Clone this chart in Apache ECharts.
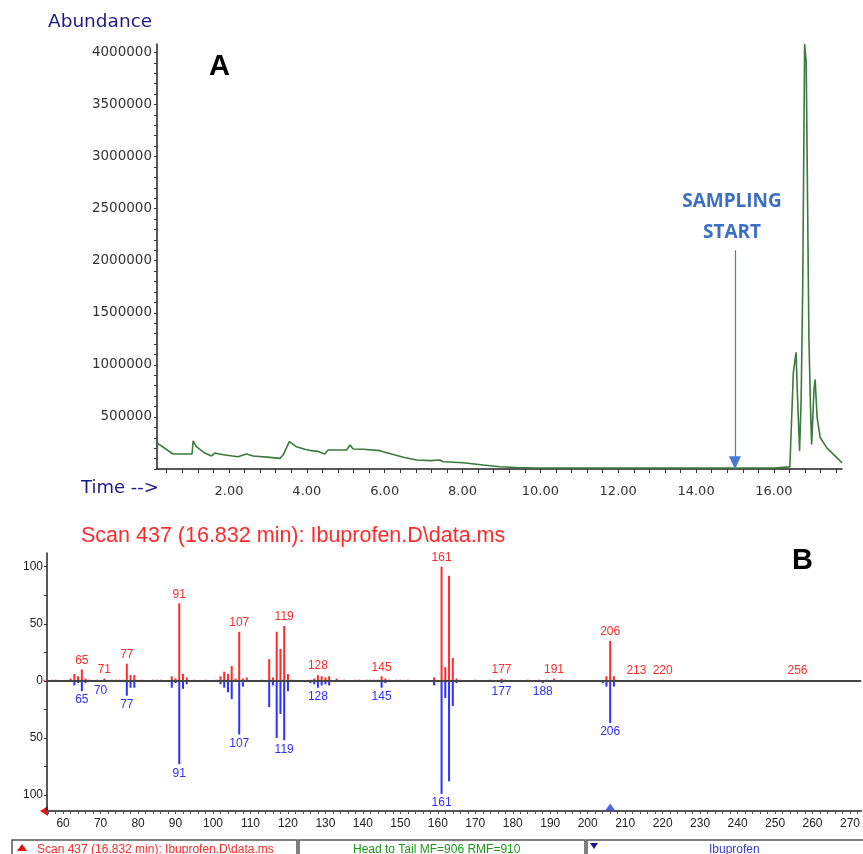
<!DOCTYPE html>
<html>
<head>
<meta charset="utf-8">
<script src="https://cdn.jsdelivr.net/npm/echarts@6/dist/echarts.min.js"></script>
<style>
html, body { margin: 0; padding: 0; background: #fff; }
#chart { width: 863px; height: 854px; }
</style>
</head>
<body>
<div id="chart"></div>
<script>
// --- A: total ion chromatogram ---
const timeMin = [0.15, 0.56, 1.05, 1.08, 1.16, 1.38, 1.55, 1.63, 1.85, 2.23, 2.45, 2.62, 3.05, 3.31, 3.39, 3.55,
  3.73, 3.95, 4.12, 4.16, 4.29, 4.46, 4.55, 5.02, 5.11, 5.19, 5.45, 5.88, 5.96, 6.48, 6.82, 7.17, 7.42, 7.5,
  8.02, 8.53, 8.96, 9.39, 9.9, 12, 14, 16, 16.41, 16.5, 16.57, 16.6, 16.66, 16.7, 16.74, 16.79, 16.83, 16.9,
  16.94, 16.97, 17.03, 17.06, 17.11, 17.19, 17.36, 17.63, 17.75]
const abundance = [250000, 144000, 144000, 271000, 214000, 153000, 125000, 153000, 137000, 118000, 144000, 125000,
  112000, 102000, 134000, 262000, 214000, 189000, 176000, 189000, 169000, 144000, 182000, 182000, 230000, 192000,
  189000, 176000, 166000, 112000, 86000, 80000, 86000, 70000, 60000, 38000, 22000, 15000, 10000, 10000, 10000,
  10000, 20000, 925000, 1120000, 761000, 172000, 663000, 1720000, 4080000, 3910000, 1260000, 597000, 236000,
  761000, 860000, 499000, 302000, 203000, 105000, 60000]
const timeLabels = [2, 4, 6, 8, 10, 12, 14, 16]
const abundanceLabels = [500000, 1000000, 1500000, 2000000, 2500000, 3000000, 3500000, 4000000]
const samplingStart = 15

// --- B: head-to-tail mass spectrum (sample up, library down) ---
const sampleMz = [55, 57, 58, 62, 63, 64, 65, 66, 67, 69, 71, 73, 74, 75, 76, 77, 78, 79, 81, 84, 85, 86, 89, 90,
  91, 92, 93, 95, 98, 101, 102, 103, 104, 105, 106, 107, 108, 109, 113, 115, 116, 117, 118, 119, 120, 121, 126,
  127, 128, 129, 130, 131, 133, 135, 138, 139, 141, 142, 143, 144, 145, 146, 147, 149, 150, 152, 159, 161, 162,
  163, 164, 165, 166, 170, 174, 177, 178, 184, 187, 189, 191, 193, 205, 206, 207, 213, 220, 256]
const sampleInt = [1, 1, 1, 2, 6, 4, 10, 2, 1, 1, 2, 1, 1, 1, 1, 15, 5, 5, 1, 1, 1, 1, 4, 2,
  68, 6, 3, 1, 1, 1, 4, 8, 6, 13, 2, 43, 2, 3, 1, 19, 3, 43, 28, 48, 6, 1, 1,
  2, 5, 4, 3, 4, 2, 1, 1, 1, 1, 1, 1, 1, 4, 2, 1, 1, 1, 1, 3, 100, 12,
  92, 20, 2, 1, 1, 1, 2, 1, 1, 1, 1, 2, 1, 4, 35, 4, 1, 1, 1]
const libMz = [63, 64, 65, 66, 70, 74, 77, 78, 79, 89, 90, 91, 92, 93, 102, 103, 104, 105, 107, 108, 115, 116,
  117, 118, 119, 120, 126, 127, 128, 129, 130, 131, 145, 146, 159, 161, 162, 163, 164, 165, 177, 178, 188, 191,
  204, 205, 206, 207]
const libInt = [4, 2, 9, 2, 1, 1, 13, 6, 6, 6, 2, 73, 7, 3, 3, 6, 10, 16, 47, 5, 23, 4,
  50, 29, 52, 9, 2, 3, 6, 4, 3, 4, 6, 2, 4, 99, 15, 88, 22, 2, 2, 1, 2, 1,
  2, 5, 37, 5]
const sampleLabeled = [65, 71, 77, 91, 107, 119, 128, 145, 161, 177, 191, 206, 213, 220, 256]
const libLabeled = [65, 70, 77, 91, 107, 119, 128, 145, 161, 177, 188, 206]
const mzLabels = [60, 70, 80, 90, 100, 110, 120, 130, 140, 150, 160, 170, 180, 190, 200, 210, 220, 230, 240, 250, 260, 270]
const relLabels = [-100, -50, 0, 50, 100]
const selectedMz = 206

// minor tick positions
const timeTicks = []
for (let i = 1; i <= 44; i++) timeTicks.push(+(i * 0.4).toFixed(1))
const abundanceTicks = []
for (let i = 0; i <= 40; i++) abundanceTicks.push(i * 100000)
const mzTicks = []
for (let m = 56; m <= 272; m += 2) mzTicks.push(m)
const relTicks = [-100, -75, -50, -25, 0, 25, 50, 75, 100]

const RED = '#ff2a2a'
const BLUE = '#2f2fff'
const NAVY = '#1c1a86'

const chart = echarts.init(document.getElementById('chart'))

const option = {
  animation: false,
  backgroundColor: '#fff',
  grid: [
    { left: 157, right: 21, top: 44, bottom: 385 },
    { left: 47, right: 0, top: 553, bottom: 43 }
  ],
  xAxis: [
    {
      gridIndex: 0, type: 'value', min: 0.15, max: 17.75,
      axisLine: { lineStyle: { color: '#222', width: 1.5 } },
      axisTick: { customValues: timeTicks, length: 4, lineStyle: { color: '#333' } },
      axisLabel: {
        customValues: timeLabels, margin: 16, color: '#333',
        fontFamily: 'DejaVu Sans', fontSize: 13,
        formatter: v => v.toFixed(2)
      },
      splitLine: { show: false }
    },
    {
      gridIndex: 1, type: 'value', min: 55.7, max: 273,
      axisLine: { onZero: false, lineStyle: { color: '#555', width: 2 } },
      axisTick: { customValues: mzTicks, length: 3, lineStyle: { color: '#555' } },
      axisLabel: {
        customValues: mzLabels, margin: 7, color: '#222',
        fontFamily: 'Liberation Sans', fontSize: 12
      },
      splitLine: { show: false }
    }
  ],
  yAxis: [
    {
      gridIndex: 0, type: 'value', min: 0, max: 4080000,
      axisLine: { show: true, lineStyle: { color: '#222', width: 1.5 } },
      axisTick: { customValues: abundanceTicks, length: 3, lineStyle: { color: '#333' } },
      axisLabel: {
        customValues: abundanceLabels, margin: 5, color: '#333',
        fontFamily: 'DejaVu Sans', fontSize: 13.5,
        formatter: v => String(v)
      },
      splitLine: { show: false }
    },
    {
      gridIndex: 1, type: 'value', min: -114, max: 112,
      axisLine: { show: true, onZero: false, lineStyle: { color: '#222', width: 1.5 } },
      axisTick: { customValues: relTicks, length: 3, lineStyle: { color: '#333' } },
      axisLabel: {
        customValues: relLabels, margin: 4, color: '#222',
        fontFamily: 'Liberation Sans', fontSize: 12,
        formatter: v => String(Math.abs(v))
      },
      splitLine: { show: false }
    }
  ],
  series: [
    {
      name: 'TIC', type: 'line', xAxisIndex: 0, yAxisIndex: 0,
      data: timeMin.map((t, i) => [t, abundance[i]]),
      showSymbol: false, symbol: 'none',
      lineStyle: { color: '#3a7a3a', width: 1.6 },
      markLine: {
        silent: true, symbol: ['none', 'triangle'], symbolSize: [12, 13],
        lineStyle: { color: '#4a78d0', width: 1.2, type: 'solid' },
        label: { show: false },
        data: [[{ coord: [samplingStart, 2100000] }, { coord: [samplingStart, 60000] }]]
      }
    },
    {
      name: 'Sample', type: 'bar', xAxisIndex: 1, yAxisIndex: 1,
      barWidth: 2, barGap: '-100%',
      itemStyle: { color: RED },
      data: sampleMz.map((m, i) => ({
        value: [m, sampleInt[i]],
        label: { show: sampleLabeled.includes(m) }
      })),
      label: {
        position: 'outside', distance: 3, color: RED,
        fontFamily: 'Liberation Sans', fontSize: 12,
        formatter: p => p.value[0]
      }
    },
    {
      name: 'Library', type: 'bar', xAxisIndex: 1, yAxisIndex: 1,
      barWidth: 2, barGap: '-100%',
      itemStyle: { color: BLUE },
      data: libMz.map((m, i) => ({
        value: [m, -libInt[i]],
        label: { show: libLabeled.includes(m) }
      })),
      label: {
        position: 'outside', distance: 3, color: BLUE,
        fontFamily: 'Liberation Sans', fontSize: 12,
        formatter: p => p.value[0]
      },
      markLine: {
        silent: true, symbol: 'none',
        lineStyle: { color: '#444', width: 2, type: 'solid' },
        label: { show: false },
        data: [{ yAxis: 0 }]
      }
    },
    {
      name: 'Selected', type: 'scatter', xAxisIndex: 1, yAxisIndex: 1,
      data: [[selectedMz, -114]],
      symbol: 'triangle', symbolSize: [10, 7], symbolOffset: [0, -4],
      itemStyle: { color: '#2040e0' }, silent: true
    }
  ],
  graphic: [
    { type: 'text', left: 48, top: 13, style: { text: 'Abundance', fill: NAVY, font: '18.5px "DejaVu Sans"' } },
    { type: 'text', left: 81, top: 479, style: { text: 'Time -->', fill: NAVY, font: '18px "DejaVu Sans"' } },
    { type: 'text', left: 209, top: 52, style: { text: 'A', fill: '#000', font: 'bold 29px "Liberation Sans"' } },
    {
      type: 'text', x: 732, y: 186,
      style: {
        text: 'SAMPLING\nSTART', fill: '#3c6fc4', align: 'center', lineHeight: 31,
        font: 'bold 19px "Open Sans"'
      }
    },
    {
      type: 'text', left: 81, top: 525,
      style: { text: 'Scan 437 (16.832 min): Ibuprofen.D\\data.ms', fill: RED, font: '21.5px "Liberation Sans"' }
    },
    { type: 'text', left: 792, top: 546, style: { text: 'B', fill: '#000', font: 'bold 29px "Liberation Sans"' } },
    { type: 'polygon', shape: { points: [[40, 811], [48, 806], [48, 816]] }, style: { fill: '#ee1111' } },
    // status bar
    { type: 'rect', shape: { x: 12, y: 840, width: 285, height: 20 }, style: { fill: '#fff', stroke: '#555', lineWidth: 1.5 } },
    { type: 'rect', shape: { x: 299, y: 840, width: 286, height: 20 }, style: { fill: '#fff', stroke: '#555', lineWidth: 1.5 } },
    { type: 'rect', shape: { x: 587, y: 840, width: 290, height: 20 }, style: { fill: '#fff', stroke: '#555', lineWidth: 1.5 } },
    { type: 'polygon', shape: { points: [[17, 851], [22, 844], [27, 851]] }, style: { fill: '#dd1111' } },
    { type: 'text', left: 37, top: 844, style: { text: 'Scan 437 (16.832 min): Ibuprofen.D\\data.ms', fill: RED, font: '12px "Liberation Sans"' } },
    { type: 'text', left: 353, top: 844, style: { text: 'Head to Tail MF=906 RMF=910', fill: '#1a9a1a', font: '12px "Liberation Sans"' } },
    { type: 'polygon', shape: { points: [[590, 843], [598, 843], [594, 849]] }, style: { fill: '#1a1a90' } },
    { type: 'text', left: 709, top: 844, style: { text: 'Ibuprofen', fill: '#3a3ad0', font: '12px "Liberation Sans"' } }
  ]
}

chart.setOption(option)
</script>
</body>
</html>
